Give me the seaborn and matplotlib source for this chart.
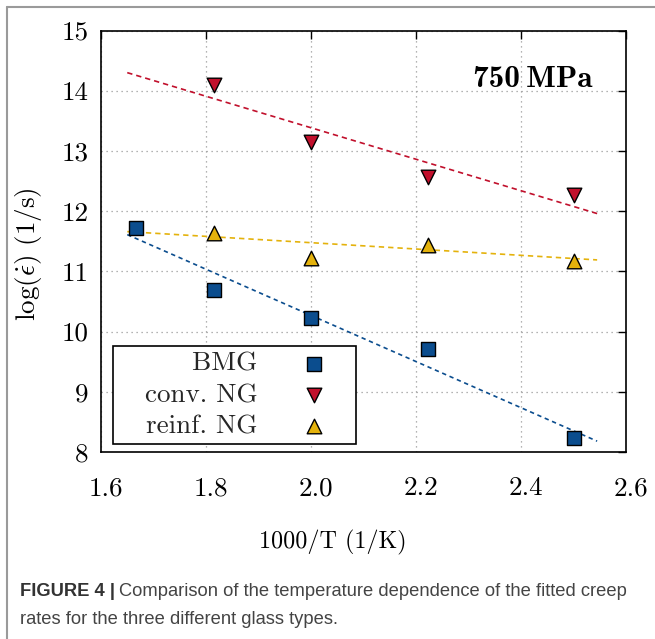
import numpy as np
import pandas as pd
import matplotlib
matplotlib.use("Agg")
import matplotlib.pyplot as plt
import seaborn as sns
from matplotlib.lines import Line2D
from matplotlib.transforms import ScaledTranslation

# ---- data ----
inv_T = [1.6667, 1.8149, 2.0, 2.2222, 2.5]
bmg = [11.72, 10.69, 10.23, 9.71, 8.23]
ng_x = [1.8149, 2.0, 2.2222, 2.5]
conv_ng = [14.09, 13.15, 12.56, 12.27]
reinf_ng = [11.64, 11.23, 11.44, 11.18]

fit_x = [1.65, 2.545]
fit_bmg = [11.61, 8.18]
fit_conv = [14.30, 11.96]
fit_reinf = [11.66, 11.19]

series_labels = ["BMG", "conv. NG", "reinf. NG"]
x_ticks = [1.6, 1.8, 2.0, 2.2, 2.4, 2.6]
y_ticks = [8, 9, 10, 11, 12, 13, 14, 15]

c_blue = "#0b4d8e"
c_red = "#c1102c"
c_yellow = "#e4b20c"

sns.set_theme(style="white")
plt.rcParams["font.family"] = "cmr10"
plt.rcParams["mathtext.fontset"] = "cm"
plt.rcParams["axes.unicode_minus"] = False

fig = plt.figure(figsize=(6.55, 6.39), dpi=100)
ax = fig.add_axes([101 / 655, 1 - 452 / 639, 525 / 655, 421.5 / 639])

dash = (0, (3.2, 2.4))
sns.lineplot(x=fit_x, y=fit_conv, color=c_red, lw=1.2, linestyle=dash, legend=False, ax=ax, zorder=2)
sns.lineplot(x=fit_x, y=fit_reinf, color=c_yellow, lw=1.2, linestyle=dash, legend=False, ax=ax, zorder=2)
sns.lineplot(x=fit_x, y=fit_bmg, color=c_blue, lw=1.2, linestyle=(0, (2.6, 2.2)), legend=False, ax=ax, zorder=2)

sns.scatterplot(x=inv_T, y=bmg, marker="s", s=95, color=c_blue, edgecolor="black",
                linewidth=1.0, label=series_labels[0], ax=ax, zorder=4)
sns.scatterplot(x=ng_x, y=conv_ng, marker="v", s=110, color=c_red, edgecolor="black",
                linewidth=1.0, label=series_labels[1], ax=ax, zorder=4)
sns.scatterplot(x=ng_x, y=reinf_ng, marker="^", s=110, color=c_yellow, edgecolor="black",
                linewidth=1.0, label=series_labels[2], ax=ax, zorder=4)

ax.set_xlim(1.6, 2.6)
ax.set_ylim(8, 15)
ax.set_xticks(x_ticks)
ax.set_xticklabels([f"{v:.1f}" for v in x_ticks])
ax.set_yticks(y_ticks)
ax.set_yticklabels([str(v) for v in y_ticks])

ax.grid(True, color="#9a9a9a", linestyle=(0, (1, 3)), linewidth=0.9)
for s in ax.spines.values():
    s.set_color("black")
    s.set_linewidth(1.2)
ax.tick_params(axis="both", which="major", direction="in", length=6, width=1.0,
               top=True, right=True, labelsize=19.5, colors="black")
ax.tick_params(axis="x", pad=17.5)
ax.tick_params(axis="y", pad=9)
shift = ScaledTranslation(5 / 100, 0, fig.dpi_scale_trans)
for lab in ax.get_xticklabels():
    lab.set_transform(lab.get_transform() + shift)

ax.set_xlabel("1000/T (1/K)", fontsize=17.4, color="black")
ax.set_ylabel(r"$\log(\dot{\epsilon})$ (1/s)", fontsize=19.5, color="black")
ax.xaxis.set_label_coords(0.442, -0.184)
ax.yaxis.set_label_coords(-0.108, 0.47)

ax.text(0.937, 0.866, "750\u2009MPa", transform=ax.transAxes, ha="right",
        va="baseline", fontsize=22.5, color="black", family=["cmb10", "DejaVu Sans"])

handles, labels = ax.get_legend_handles_labels()
leg = ax.legend(handles, ["   " + l for l in labels], loc="lower left",
                bbox_to_anchor=(0.0223, 0.0197), borderaxespad=0,
                markerfirst=False, fontsize=19.5, frameon=True, fancybox=False,
                edgecolor="black", framealpha=1, handlelength=2.7, handletextpad=0.74,
                borderpad=0.2, labelspacing=0.27, scatterpoints=1)
leg.get_frame().set_linewidth(1.2)

# figure border (left and top only, as in the reference)
fig.add_artist(Line2D([7 / 655, 7 / 655], [0, 1 - 7 / 639], transform=fig.transFigure,
                      color="#9a9a9a", lw=1.5))
fig.add_artist(Line2D([7 / 655, 1], [1 - 7 / 639, 1 - 7 / 639], transform=fig.transFigure,
                      color="#9a9a9a", lw=1.5))

# caption
cap_font = "Liberation Sans"
cap_size = 13.2
fig.canvas.draw()
r = fig.canvas.get_renderer()
t1 = fig.text(20 / 655, 1 - 592 / 639, "FIGURE 4 |", fontsize=cap_size, fontweight="bold",
              family=cap_font, color="#333333", va="center", ha="left")
bb = t1.get_window_extent(renderer=r)
x_next = (bb.x1 + 4) / fig.bbox.width
fig.text(x_next, 1 - 592 / 639, "Comparison of the temperature dependence of the fitted creep",
         fontsize=cap_size, family=cap_font, color="#444444", va="center", ha="left")
fig.text(20 / 655, 1 - 619 / 639, "rates for the three different glass types.",
         fontsize=cap_size, family=cap_font, color="#444444", va="center", ha="left")

fig.savefig("out.png", dpi=100)
